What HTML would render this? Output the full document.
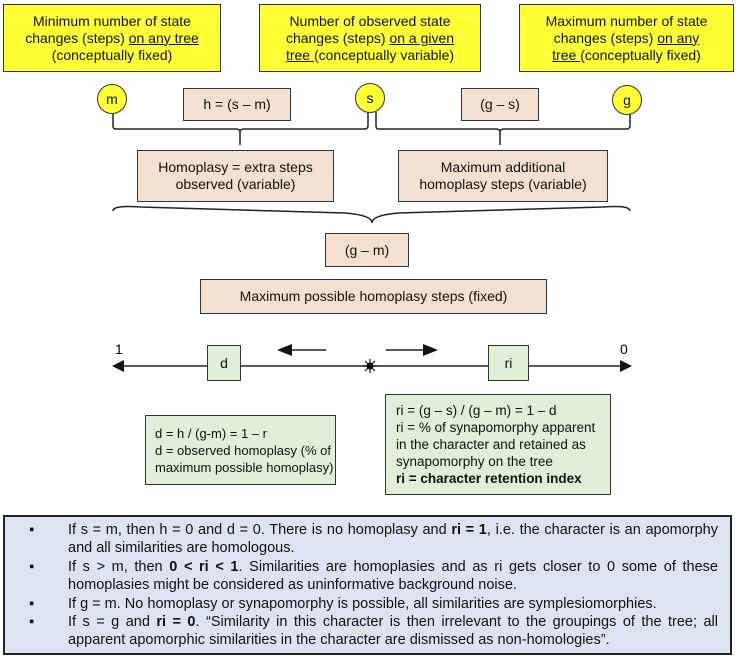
<!DOCTYPE html>
<html><head><meta charset="utf-8"><style>
body{margin:0;width:736px;height:659px;background:#fff;position:relative;font-family:"Liberation Sans",Arial,sans-serif;color:#111;overflow:hidden}
.b{position:absolute;box-sizing:border-box;border:1.5px solid #333;display:flex;align-items:center;justify-content:center;text-align:center;font-size:14px;line-height:17px}
.y{background:#ffff33}
.t{background:#f4e0d0}
.g{background:#e2efd8}
.c{position:absolute;width:30px;height:30px;border-radius:50%;background:#ffff33;border:1.5px solid #333;box-sizing:border-box;display:flex;align-items:center;justify-content:center;font-size:14px}
u{text-decoration:underline}
.gt{justify-content:flex-start;text-align:left;padding-left:10px;font-size:13.5px;white-space:nowrap}
</style></head><body>
<div class="b y" style="left:3px;top:4px;width:218px;height:68px"><div>Minimum number of state<br>changes (steps) <u>on any tree</u><br>(conceptually fixed)</div></div>
<div class="b y" style="left:259px;top:4px;width:222px;height:68px"><div>Number of observed state<br>changes (steps) <u>on a given</u><br><u>tree </u>(conceptually variable)</div></div>
<div class="b y" style="left:519px;top:4px;width:215px;height:68px"><div>Maximum number of state<br>changes (steps) <u>on any</u><br><u>tree </u>(conceptually fixed)</div></div>
<svg style="position:absolute;left:0;top:0" width="736" height="659">
<g fill="none" stroke="#222" stroke-width="1.5">
<path d="M113 112 V126 Q113 129 116 129 H236 Q240 129 240 132 V145 M240 132 Q240 129 244 129 H364 Q368 129 368 126 V112"/>
<path d="M376 112 V126 Q376 129 379 129 H496 Q500 129 500 132 V145 M500 132 Q500 129 504 129 H626 Q630 129 630 126 V112"/>
<path d="M113 298 Q113 292 140 294 L345 300 Q372 302 372 310 Q372 302 399 300 L603 294 Q630 292 630 298" transform="translate(0,-87)"/>
<line x1="120" y1="366" x2="622" y2="366"/>
<line x1="292" y1="350" x2="326" y2="350"/>
<line x1="386" y1="350" x2="424" y2="350"/>
</g>
<g fill="#111">
<polygon points="112,366 124,360 124,372"/>
<polygon points="632,366 620,360 620,372"/>
<polygon points="277,350 292,344 292,356"/>
<polygon points="438,350 423,344 423,356"/>
<circle cx="370" cy="366" r="3.5"/>
</g>
<g stroke="#111" stroke-width="1.2">
<line x1="363" y1="366" x2="377" y2="366"/><line x1="370" y1="359" x2="370" y2="373"/>
<line x1="365" y1="361" x2="375" y2="371"/><line x1="375" y1="361" x2="365" y2="371"/>
</g>
<text x="115" y="354" font-size="14" font-family="Liberation Sans">1</text>
<text x="620" y="354" font-size="14" font-family="Liberation Sans">0</text>
</svg>
<div class="c" style="left:97px;top:84px">m</div>
<div class="c" style="left:355px;top:83px">s</div>
<div class="c" style="left:612px;top:85px">g</div>
<div class="b t" style="left:183px;top:88px;width:108px;height:33px">h = (s – m)</div>
<div class="b t" style="left:461px;top:88px;width:78px;height:33px">(g – s)</div>
<div class="b t" style="left:137px;top:150px;width:197px;height:52px"><div>Homoplasy = extra steps<br>observed (variable)</div></div>
<div class="b t" style="left:398px;top:150px;width:210px;height:52px"><div>Maximum additional<br>homoplasy steps (variable)</div></div>
<div class="b t" style="left:325px;top:233px;width:84px;height:34px">(g – m)</div>
<div class="b t" style="left:200px;top:279px;width:347px;height:35px">Maximum possible homoplasy steps (fixed)</div>
<div class="b g" style="left:207px;top:345px;width:34px;height:36px">d</div>
<div class="b g" style="left:488px;top:345px;width:41px;height:36px">ri</div>
<div class="b g gt" style="left:145px;top:415px;width:191px;height:70px;font-size:13px;padding-left:9px"><div>d = h / (g-m) = 1 – r<br>d = observed homoplasy (% of<br>maximum possible homoplasy)</div></div>
<div class="b g gt" style="left:385px;top:394px;width:226px;height:101px"><div>ri = (g – s) / (g – m) = 1 – d<br>ri = % of synapomorphy apparent<br>in the character and retained as<br>synapomorphy on the tree<br><b>ri = character retention index</b></div></div>
<div style="position:absolute;left:3px;top:515px;width:729px;height:140px;box-sizing:border-box;border:2px solid #222;background:#dde3f3;font-size:14.5px;line-height:18.4px;padding:4px 12px 0 0">
<div style="position:relative;padding-left:63px;text-align:justify"><span style="position:absolute;left:24px">▪</span>If s = m, then h = 0 and d = 0. There is no homoplasy and <b>ri = 1</b>, i.e. the character is an apomorphy and all similarities are homologous.</div>
<div style="position:relative;padding-left:63px;text-align:justify"><span style="position:absolute;left:24px">▪</span>If s &gt; m, then <b>0 &lt; ri &lt; 1</b>. Similarities are homoplasies and as ri gets closer to 0 some of these homoplasies might be considered as uninformative background noise.</div>
<div style="position:relative;padding-left:63px;text-align:justify"><span style="position:absolute;left:24px">▪</span>If g = m. No homoplasy or synapomorphy is possible, all similarities are symplesiomorphies.</div>
<div style="position:relative;padding-left:63px;text-align:justify"><span style="position:absolute;left:24px">▪</span>If s = g and <b>ri = 0</b>. “Similarity in this character is then irrelevant to the groupings of the tree; all apparent apomorphic similarities in the character are dismissed as non-homologies”.</div>
</div>
</body></html>
